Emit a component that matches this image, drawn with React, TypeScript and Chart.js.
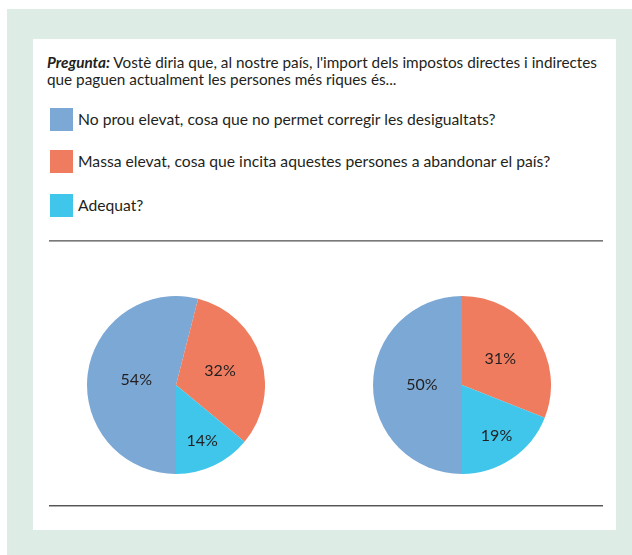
import React, { useEffect, useRef } from "react";
import { Chart, registerables } from "chart.js";

Chart.register(...registerables);

const categories = [
  "No prou elevat, cosa que no permet corregir les desigualtats?",
  "Massa elevat, cosa que incita aquestes persones a abandonar el país?",
  "Adequat?",
];
const seriesLeft = [54, 32, 14];
const seriesRight = [50, 31, 19];
const sliceColors = ["#7ba8d4", "#f07c5f", "#3fc6ea"];
const labelRadius = [0.45, 0.52, 0.69];

const FONT = "Lato, 'Open Sans', sans-serif";

const labelPlugin = {
  id: "sliceLabels",
  afterDatasetsDraw(chart: any) {
    const ctx = chart.ctx;
    const meta = chart.getDatasetMeta(0);
    const values = chart.data.datasets[0].data;
    ctx.save();
    ctx.fillStyle = "#231f20";
    ctx.font = `16px ${FONT}`;
    ctx.textAlign = "center";
    ctx.textBaseline = "middle";
    meta.data.forEach((arc: any, i: number) => {
      const p = arc.getProps(["x", "y", "startAngle", "endAngle", "outerRadius"], true);
      const mid = (p.startAngle + p.endAngle) / 2;
      const r = p.outerRadius * labelRadius[i];
      ctx.fillText(values[i] + "%", p.x + Math.cos(mid) * r, p.y + Math.sin(mid) * r);
    });
    ctx.restore();
  },
};

function Pie({ values, left, top }: { values: number[]; left: number; top: number }) {
  const ref = useRef<HTMLCanvasElement>(null);
  useEffect(() => {
    const chart = new Chart(ref.current!, {
      type: "pie",
      data: {
        labels: categories,
        datasets: [
          {
            data: values,
            backgroundColor: sliceColors,
            borderWidth: 0,
          },
        ],
      },
      options: {
        responsive: false,
        animation: false,
        devicePixelRatio: 1,
        rotation: 180,
        layout: { padding: 0 },
        plugins: { legend: { display: false }, tooltip: { enabled: false } },
      },
      plugins: [labelPlugin],
    });
    return () => chart.destroy();
  }, []);
  return (
    <canvas
      ref={ref}
      width={178}
      height={178}
      style={{ position: "absolute", left, top, width: 178, height: 178 }}
    />
  );
}

function Rule({ top, dark, light }: { top: number; dark: string; light: string }) {
  return (
    <>
      <div style={{ position: "absolute", left: 49, top, width: 554, height: 1, background: dark }} />
      <div style={{ position: "absolute", left: 49, top: top + 1, width: 554, height: 1, background: light }} />
    </>
  );
}

export default function App() {
  const legendTops = [108, 150, 194];
  return (
    <div
      style={{
        position: "absolute",
        left: 0,
        top: 0,
        width: 632,
        height: 555,
        background: "#ffffff",
        overflow: "hidden",
        fontFamily: FONT,
        color: "#231f20",
      }}
    >
      <div style={{ position: "absolute", left: 7, top: 9, width: 625, height: 546, background: "#deece6" }} />
      <div style={{ position: "absolute", left: 33, top: 39, width: 583, height: 491, background: "#ffffff" }} />
      <div
        style={{
          position: "absolute",
          left: 47,
          top: 54,
          width: 570,
          fontSize: 15.3,
          lineHeight: "16.5px",
          whiteSpace: "nowrap",
        }}
      >
        <b><i>Pregunta:</i></b> Vostè diria que, al nostre país, l'import dels impostos directes i indirectes
        <br />
        que paguen actualment les persones més riques és...
      </div>
      {categories.map((c, i) => (
        <React.Fragment key={i}>
          <div
            style={{
              position: "absolute",
              left: 50,
              top: legendTops[i],
              width: 23,
              height: 23,
              background: sliceColors[i],
            }}
          />
          <div
            style={{
              position: "absolute",
              left: 78,
              top: legendTops[i],
              fontSize: 15.7,
              lineHeight: "22px",
              whiteSpace: "nowrap",
            }}
          >
            {c}
          </div>
        </React.Fragment>
      ))}
      <Rule top={240} dark="#7a7a7a" light="#a8a8a8" />
      <Pie values={seriesLeft} left={87} top={296} />
      <Pie values={seriesRight} left={373} top={296} />
      <Rule top={505} dark="#555555" light="#b0b0b0" />
    </div>
  );
}
